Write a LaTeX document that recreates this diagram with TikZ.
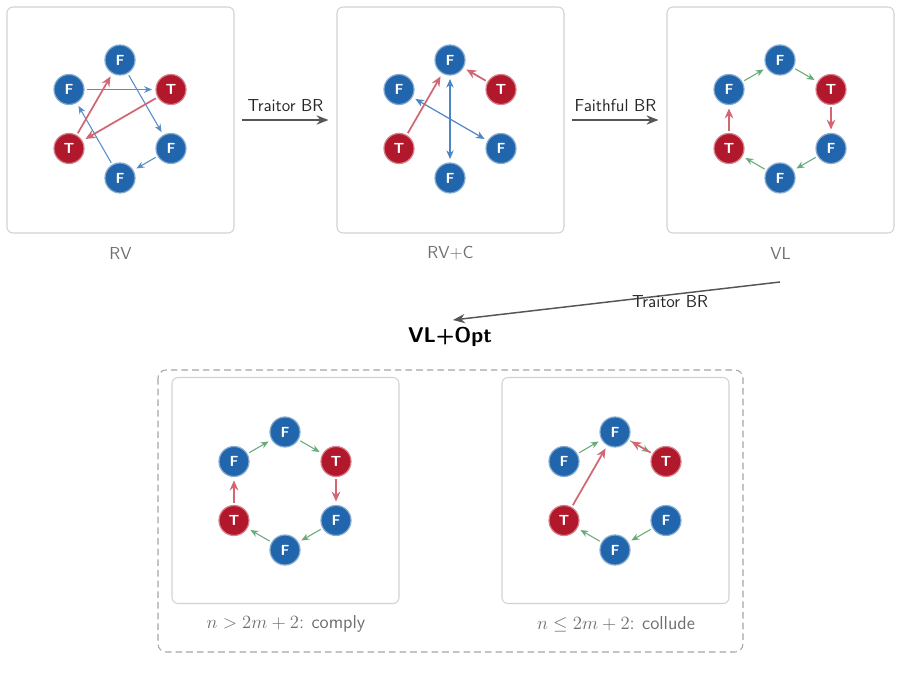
\RequirePackage{fix-cm}
\documentclass[tikz,border=0pt]{standalone}
\usepackage{fontspec}
\usetikzlibrary{arrows.meta}
\definecolor{nblue}{RGB}{33,102,172}
\definecolor{nred}{RGB}{178,24,43}
\definecolor{eblue}{RGB}{86,140,200}
\definecolor{ered}{RGB}{212,102,116}
\definecolor{egreen}{RGB}{104,170,122}
\definecolor{pborder}{RGB}{210,210,210}
\definecolor{lgray}{RGB}{110,110,110}
\definecolor{agray}{RGB}{85,85,85}
\definecolor{dgray}{RGB}{165,165,165}
\tikzset{
  agent/.style={circle, minimum size=22.5pt, inner sep=0pt, text=white,
    font=\sffamily\bfseries\fontsize{11}{11}\selectfont, line width=0.9pt},
  fnode/.style={agent, fill=nblue, draw=nblue!55!white},
  tnode/.style={agent, fill=nred, draw=nred!55!white},
  panel/.style={draw=pborder, line width=0.8pt, rounded corners=4.5pt,
    minimum width=170.25pt, minimum height=169.5pt, fill=white, inner sep=0pt},
  plabel/.style={text=lgray, font=\sffamily\fontsize{13}{15}\selectfont},
  blabel/.style={text=lgray, font=\sffamily\fontsize{14}{16}\selectfont},
  alabel/.style={text=black!85, font=\sffamily\fontsize{13}{15}\selectfont},
  tip/.style={-{Stealth[length=6pt,width=5pt,inset=2pt]}, shorten >=2.5pt, shorten <=1.5pt},
  eb/.style={tip, draw=eblue, line width=0.8pt},
  ebb/.style={eb, draw=eblue!85!nblue, line width=0.9pt, {Stealth[length=6.5pt,width=5.5pt,inset=2pt]}-{Stealth[length=6.5pt,width=5.5pt,inset=2pt]}, shorten <=2.5pt},
  er/.style={draw=ered, line width=1.3pt, -{Stealth[length=7.5pt,width=6.5pt,inset=2.5pt]}, shorten >=2.5pt, shorten <=1.5pt},
  eg/.style={tip, draw=egreen, line width=0.8pt},
  bigarrow/.style={draw=agray, line width=1.1pt, -{Stealth[length=9pt,width=7pt,inset=3pt]}},
  dashbox/.style={draw=dgray, line width=0.8pt, dash pattern=on 5pt off 3pt, rounded corners=6pt},
}
\newcommand\hexring[3]{%
  \node[fnode] (#1-t)  at ({#2},{#3-59}) {F};
  \node[fnode] (#1-ul) at ({#2-51},{#3-29.5}) {F};
  \node[tnode] (#1-ur) at ({#2+51},{#3-29.5}) {T};
  \node[tnode] (#1-ll) at ({#2-51},{#3+29.5}) {T};
  \node[fnode] (#1-lr) at ({#2+51},{#3+29.5}) {F};
  \node[fnode] (#1-b)  at ({#2},{#3+59}) {F};
}
\begin{document}
\begin{tikzpicture}[x=0.75pt,y=-0.75pt]
\useasboundingbox (0,0) rectangle (901,695);

% top panels
\node[panel] (p1) at (120.5,120) {};
\node[panel] (p2) at (450.5,120) {};
\node[panel] (p3) at (780.5,120) {};
\node[plabel] (l1) at (120.5,253) {RV};
\node[plabel] (l2) at (450.5,253) {RV+C};
\node[plabel] (l3) at (780.5,253) {VL};

\hexring{a}{120}{119}
\hexring{b}{450}{119}
\hexring{c}{780}{119}

% RV
\draw[eb] (a-ul) -- (a-ur);
\draw[eb] (a-t) -- (a-lr);
\draw[eb] (a-lr) -- (a-b);
\draw[eb] (a-b) -- (a-ul);
\draw[er] (a-ll) -- (a-t);
\draw[er] (a-ur) -- (a-ll);

% RV+C
\draw[ebb] (b-t) -- (b-b);
\draw[ebb] (b-ul) -- (b-lr);
\draw[er] (b-ur) -- (b-t);
\draw[er] (b-ll) -- (b-t);

% VL
\draw[eg] (c-ul) -- (c-t);
\draw[eg] (c-t) -- (c-ur);
\draw[eg] (c-lr) -- (c-b);
\draw[eg] (c-b) -- (c-ll);
\draw[er] (c-ur) -- (c-lr);
\draw[er] (c-ll) -- (c-ul);

% transitions
\draw[bigarrow, shorten <=5.25pt, shorten >=6pt] (p1.east) -- node[above=2.5pt, alabel] {Traitor BR} (p2.west);
\draw[bigarrow, shorten <=5.25pt, shorten >=6pt] (p2.east) -- node[above=2.5pt, alabel] {Faithful BR} (p3.west);

\node[font=\sffamily\bfseries\fontsize{16}{18}\selectfont] (opt) at (450,337) {VL+Opt};
\coordinate (dstart) at (780,282);
\coordinate (dend) at (453,320);
\draw[bigarrow] (dstart) -- node[pos=0.336, yshift=-5.4pt, alabel] {Traitor BR} (dend);

% bottom group
\draw[dashbox] (158,370) rectangle (743,652);
\node[panel] (q1) at (285.5,490.5) {};
\node[panel] (q2) at (615.5,490.5) {};
\node[blabel] (m1) at (286,624) {$n>2m+2$:\ \kern1pt comply};
\node[blabel] (m2) at (616,624) {$n\leq 2m+2$:\ \kern1pt collude};

\hexring{d}{285}{491}
\hexring{e}{615}{491}

% comply
\draw[eg] (d-ul) -- (d-t);
\draw[eg] (d-t) -- (d-ur);
\draw[eg] (d-lr) -- (d-b);
\draw[eg] (d-b) -- (d-ll);
\draw[er] (d-ur) -- (d-lr);
\draw[er] (d-ll) -- (d-ul);

% collude
\draw[eg] (e-ul) -- (e-t);
\draw[eg] (e-t) -- (e-ur);
\draw[eg] (e-lr) -- (e-b);
\draw[eg] (e-b) -- (e-ll);
\draw[er] (e-ur) -- (e-t);
\draw[er] (e-ll) -- (e-t);
\end{tikzpicture}
\end{document}
